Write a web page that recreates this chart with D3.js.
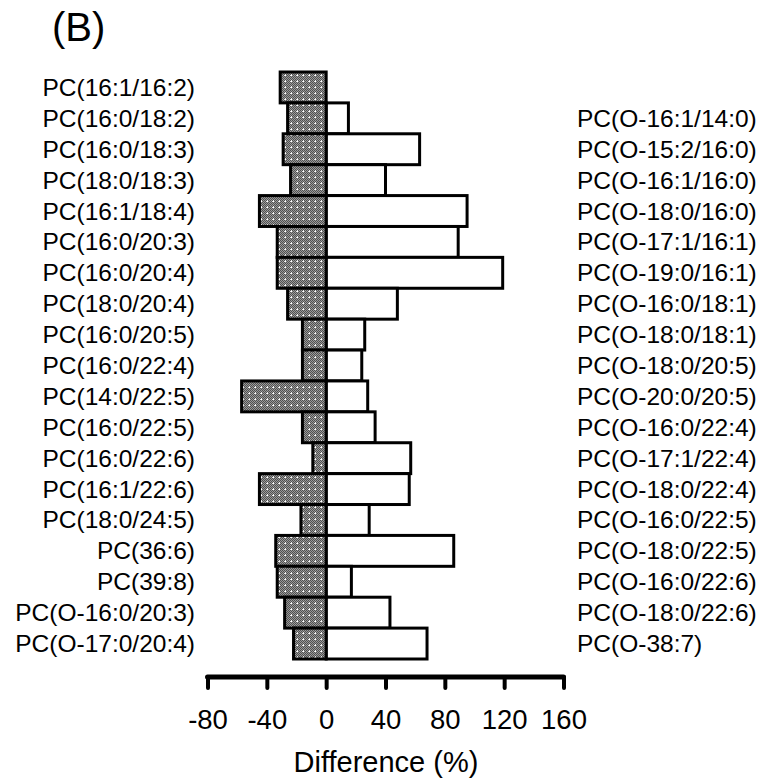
<!DOCTYPE html>
<html>
<head>
<meta charset="utf-8">
<script src="https://cdn.jsdelivr.net/npm/d3@7"></script>
<style>
body { margin: 0; background: #fff; }
text { font-family: "Liberation Sans", Arial, sans-serif; fill: #000; }
</style>
</head>
<body>
<svg id="chart" width="762" height="780"></svg>
<script>
// left side: decreased species (shaded bars)
var leftLabels = ['PC(16:1/16:2)', 'PC(16:0/18:2)', 'PC(16:0/18:3)', 'PC(18:0/18:3)',
	'PC(16:1/18:4)', 'PC(16:0/20:3)', 'PC(16:0/20:4)', 'PC(18:0/20:4)', 'PC(16:0/20:5)',
	'PC(16:0/22:4)', 'PC(14:0/22:5)', 'PC(16:0/22:5)', 'PC(16:0/22:6)', 'PC(16:1/22:6)',
	'PC(18:0/24:5)', 'PC(36:6)', 'PC(39:8)', 'PC(O-16:0/20:3)', 'PC(O-17:0/20:4)'];
var leftValues = [-31, -26, -29, -24, -45, -33, -33, -26, -16, -16, -57, -16, -9, -45,
	-17, -34, -33, -28, -22];

// right side: increased species (open bars), start at row 2
var rightLabels = ['PC(O-16:1/14:0)', 'PC(O-15:2/16:0)', 'PC(O-16:1/16:0)', 'PC(O-18:0/16:0)',
	'PC(O-17:1/16:1)', 'PC(O-19:0/16:1)', 'PC(O-16:0/18:1)', 'PC(O-18:0/18:1)',
	'PC(O-18:0/20:5)', 'PC(O-20:0/20:5)', 'PC(O-16:0/22:4)', 'PC(O-17:1/22:4)',
	'PC(O-18:0/22:4)', 'PC(O-16:0/22:5)', 'PC(O-18:0/22:5)', 'PC(O-16:0/22:6)',
	'PC(O-18:0/22:6)', 'PC(O-38:7)'];
var rightValues = [15, 63, 40, 95, 89, 119, 48, 26, 24, 28, 33, 57, 56, 29, 86, 17, 43, 68];

var xTicks = [-80, -40, 0, 40, 80, 120, 160];

var svg = d3.select('#chart');

var rows = d3.range(leftLabels.length);
var y = d3.scaleBand().domain(rows).range([72, 659]).padding(0);
var x = d3.scaleLinear().domain([-80, 160]).range([207.5, 563.5]);

// shaded fill
var defs = svg.append('defs');
var pat = defs.append('pattern')
	.attr('id', 'dots')
	.attr('patternUnits', 'userSpaceOnUse')
	.attr('width', 6).attr('height', 6);
pat.append('rect').attr('width', 6).attr('height', 6).attr('fill', '#9a9a9a');
[[0,0],[2,0],[4,0],[1,1],[3,1],[5,1],[0,2],[2,2],[4,2],[1,3],[5,3],[0,4],[2,4],[4,4],[1,5],[3,5],[5,5]]
	.forEach(function(p) {
		pat.append('rect').attr('x', p[0]).attr('y', p[1]).attr('width', 1).attr('height', 1).attr('fill', '#505050');
	});
pat.append('rect').attr('x', 3).attr('y', 3).attr('width', 1).attr('height', 1).attr('fill', '#fff');
pat.append('rect').attr('x', 3).attr('y', 2).attr('width', 1).attr('height', 1).attr('fill', '#e6e6e6');
pat.append('rect').attr('x', 2).attr('y', 3).attr('width', 1).attr('height', 1).attr('fill', '#e6e6e6');

// title
svg.append('text')
	.attr('x', 52).attr('y', 41)
	.style('font-size', '40px')
	.text('(B)');

// open bars (right)
svg.append('g').selectAll('rect')
	.data(rightValues)
	.enter().append('rect')
	.attr('x', x(0))
	.attr('y', function(d, i) { return y(i + 1); })
	.attr('width', function(d) { return x(d) - x(0); })
	.attr('height', y.bandwidth())
	.attr('fill', '#fff')
	.attr('stroke', '#000')
	.attr('stroke-width', 3);

// shaded bars (left)
svg.append('g').selectAll('rect')
	.data(leftValues)
	.enter().append('rect')
	.attr('x', function(d) { return x(d); })
	.attr('y', function(d, i) { return y(i); })
	.attr('width', function(d) { return x(0) - x(d); })
	.attr('height', y.bandwidth())
	.attr('fill', 'url(#dots)')
	.attr('stroke', '#000')
	.attr('stroke-width', 3);

// labels
svg.append('g').selectAll('text')
	.data(leftLabels)
	.enter().append('text')
	.attr('x', 195)
	.attr('y', function(d, i) { return y(i) + y.bandwidth() / 2 + 8.5; })
	.attr('text-anchor', 'end')
	.style('font-size', '24.5px')
	.text(function(d) { return d; });

svg.append('g').selectAll('text')
	.data(rightLabels)
	.enter().append('text')
	.attr('x', 577)
	.attr('y', function(d, i) { return y(i + 1) + y.bandwidth() / 2 + 8.5; })
	.attr('text-anchor', 'start')
	.style('font-size', '24.5px')
	.text(function(d) { return d; });

// x axis
var axis = svg.append('g').attr('transform', 'translate(0,677)');
axis.call(d3.axisBottom(x).tickValues(xTicks).tickSize(11).tickSizeOuter(0).tickFormat(String));
axis.select('.domain').remove();
axis.append('line')
	.attr('x1', x(-80)).attr('x2', x(160))
	.attr('stroke', '#000').attr('stroke-width', 5).attr('stroke-linecap', 'round');
axis.selectAll('.tick line').attr('stroke', '#000').attr('stroke-width', 4).attr('stroke-linecap', 'round');
axis.selectAll('.tick text')
	.attr('y', 52).attr('dy', null)
	.style('font-size', '27.5px')
	.style('font-family', '"Liberation Sans", Arial, sans-serif')
	.attr('fill', '#000');

svg.append('text')
	.attr('x', 386).attr('y', 772)
	.attr('text-anchor', 'middle')
	.style('font-size', '29px')
	.text('Difference (%)');
</script>
</body>
</html>
